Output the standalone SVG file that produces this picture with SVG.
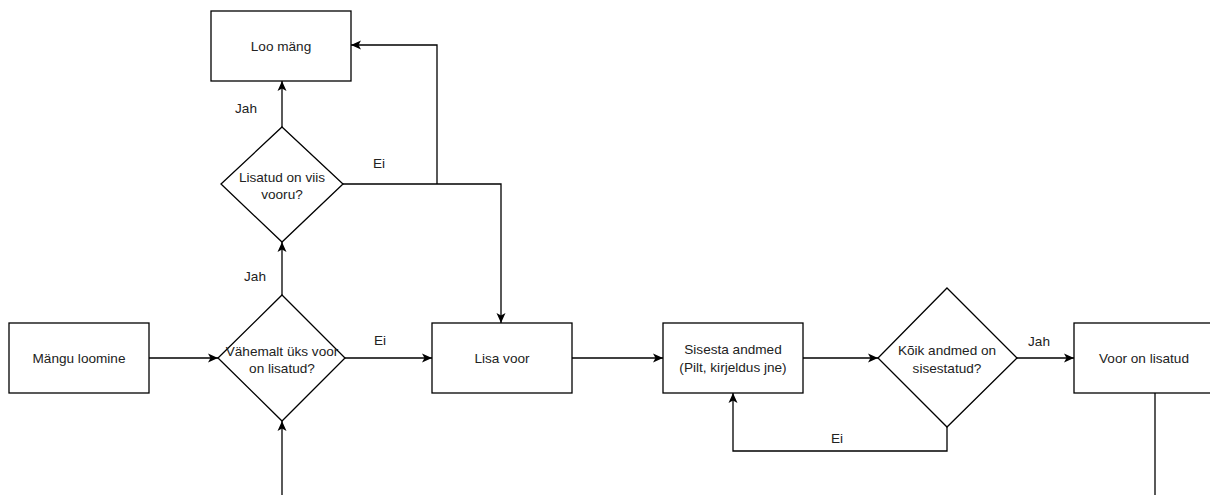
<svg xmlns="http://www.w3.org/2000/svg" width="1210" height="495" viewBox="0 0 1210 495">
<style>
.n{fill:#fff;stroke:#000;stroke-width:1.3}
.t{font-family:"Liberation Sans",Arial,sans-serif;font-size:13.6px;fill:#222;text-anchor:middle}
.c{fill:none;stroke:#000;stroke-width:1.3}
</style>
<defs>
<marker id="a" viewBox="0 0 10 10" refX="10" refY="5" markerWidth="10" markerHeight="10" markerUnits="userSpaceOnUse" orient="auto">
<path d="M0,0.5 L10,5 L0,9.5 L2.5,5 z" fill="#000"/>
</marker>
</defs>
<rect width="1210" height="495" fill="#fff"/>
<g id="connectors">
<path class="c" d="M149,358 L218,358" marker-end="url(#a)"/>
<path class="c" d="M282,495 L282,421" marker-end="url(#a)"/>
<path class="c" d="M282,295 L282,242" marker-end="url(#a)"/>
<path class="c" d="M282,127 L282,81" marker-end="url(#a)"/>
<path class="c" d="M343,184 L501,184 L501,323" marker-end="url(#a)"/>
<path class="c" d="M437,184 L437,45 L351,45" marker-end="url(#a)"/>
<path class="c" d="M345,358 L432,358" marker-end="url(#a)"/>
<path class="c" d="M572,358 L663,358" marker-end="url(#a)"/>
<path class="c" d="M803,358 L878,358" marker-end="url(#a)"/>
<path class="c" d="M1017,358 L1074,358" marker-end="url(#a)"/>
<path class="c" d="M947,427 L947,451 L733,451 L733,393" marker-end="url(#a)"/>
<path class="c" d="M1155,393 L1155,495"/>
<text class="t" x="246" y="113">Jah</text>
<text class="t" x="379" y="168">Ei</text>
<text class="t" x="255" y="281">Jah</text>
<text class="t" x="380" y="345">Ei</text>
<text class="t" x="1039" y="346">Jah</text>
<text class="t" x="837" y="443">Ei</text>
</g>
<g id="loo-mang">
<rect class="n" x="211" y="11" width="140" height="70"/>
<text class="t" x="281" y="51">Loo mäng</text>
</g>
<g id="lisatud-viis">
<path class="n" d="M282,127 L343,184 L282,242 L221,184 z"/>
<text class="t" x="282" y="181.5">Lisatud on viis</text>
<text class="t" x="282" y="199">vooru?</text>
</g>
<g id="mangu-loomine">
<rect class="n" x="9" y="323" width="140" height="70"/>
<text class="t" x="79" y="363">Mängu loomine</text>
</g>
<g id="vahemalt">
<path class="n" d="M282,295 L345,358 L282,421 L218,358 z"/>
<text class="t" x="282" y="356">Vähemalt üks voor</text>
<text class="t" x="282" y="372.5">on lisatud?</text>
</g>
<g id="lisa-voor">
<rect class="n" x="432" y="323" width="140" height="70"/>
<text class="t" x="502" y="363">Lisa voor</text>
</g>
<g id="sisesta">
<rect class="n" x="663" y="323" width="140" height="70"/>
<text class="t" x="733" y="354">Sisesta andmed</text>
<text class="t" x="733" y="372">(Pilt, kirjeldus jne)</text>
</g>
<g id="koik">
<path class="n" d="M947,288 L1017,358 L947,427 L878,358 z"/>
<text class="t" x="947" y="355">Kõik andmed on</text>
<text class="t" x="947" y="373">sisestatud?</text>
</g>
<g id="voor-lisatud">
<rect class="n" x="1074" y="323" width="140" height="70"/>
<text class="t" x="1144" y="363">Voor on lisatud</text>
</g>
</svg>
